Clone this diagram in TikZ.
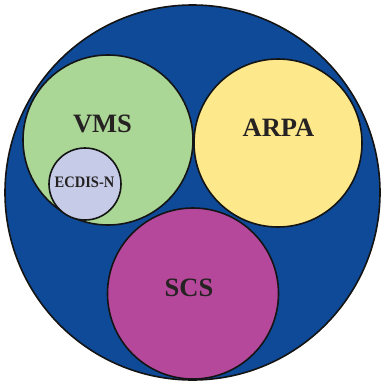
\documentclass[tikz,border=0pt]{standalone}
\usepackage{fontspec}
\setmainfont{Liberation Serif}
\begin{document}
\begin{tikzpicture}[x=1pt,y=-1pt]
\definecolor{fillColor}{RGB}{255,255,255}
\path[use as bounding box,fill=fillColor] (0,0) rectangle (381,383);
\definecolor{drawColor}{RGB}{20,20,20}
\definecolor{textColor}{RGB}{38,34,34}
\definecolor{outerColor}{RGB}{14,74,152}
\definecolor{vmsColor}{RGB}{170,214,150}
\definecolor{arpaColor}{RGB}{254,232,140}
\definecolor{scsColor}{RGB}{182,72,156}
\definecolor{ecdisColor}{RGB}{198,204,232}
\tikzset{ring/.style={draw=drawColor,line width=1.6pt},
  lbl/.style={text=textColor,font=\bfseries,inner sep=0pt,outer sep=0pt}}

\path[ring,fill=outerColor] (192.5,192.5) circle (187.5);

\path[ring,fill=vmsColor] (108.0,140.0) circle (85.0);

\path[ring,fill=arpaColor] (278.0,143.0) circle (84.0);

\path[ring,fill=scsColor] (193.0,293.5) circle (85.5);

\path[ring,fill=ecdisColor] (85.0,184.0) circle (36.0);

\node[lbl,scale=2.65] (vms) at (102.5,124.0) {VMS};

\node[lbl,scale=2.65] (arpa) at (278.5,128.0) {ARPA};

\node[lbl,scale=2.65] (scs) at (189.0,287.5) {SCS};

\node[lbl,xscale=1.45,yscale=1.6] (ecdis) at (84.5,182.0) {ECDIS-N};
\end{tikzpicture}
\end{document}
